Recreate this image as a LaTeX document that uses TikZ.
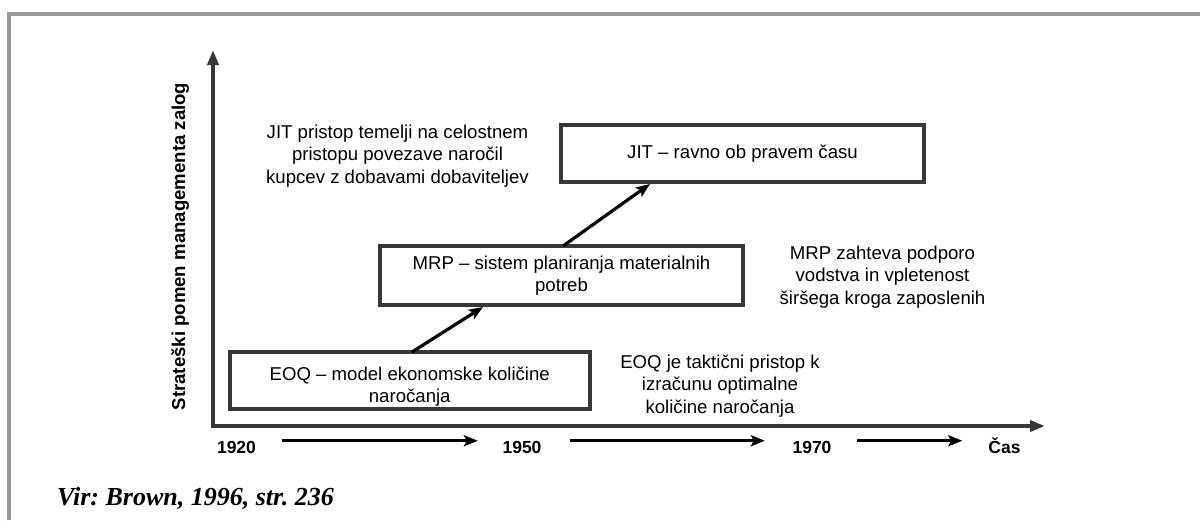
\documentclass[tikz,border=0pt]{standalone}
\usepackage{fontspec}
\setmainfont{Liberation Sans}
\newfontfamily\citefont{Liberation Serif}
\usetikzlibrary{arrows.meta}
\definecolor{framegray}{HTML}{999999}
\definecolor{axisgray}{HTML}{383838}
\frenchspacing
\begin{document}
\begin{tikzpicture}[x=1pt,y=-1pt,
  txt/.style={font=\fontsize{18.6}{22.4}\selectfont, align=center, inner sep=0pt},
  stage/.style={txt, draw=axisgray, line width=4pt, outer sep=0pt},
  axis/.style={draw=axisgray, line width=4.5pt, line join=miter,
    {Triangle[length=15pt,width=11pt]}-{Triangle[length=15pt,width=11pt]}},
  flow/.style={draw=black, line width=3.2pt, -{Stealth[length=14pt,width=11pt,inset=3pt]}},
  year/.style={font=\bfseries\fontsize{17.5}{20}\selectfont, inner sep=0pt, anchor=base,
    text height=12.5pt, text depth=0pt},
]
\useasboundingbox (0,0) rectangle (1200,520);

% page frame
\draw[framegray, line width=4pt, line join=miter] (9,520) -- (9,14) -- (1200,14);

% axes
\coordinate (origin) at (213,426);
\coordinate (ytip) at (213,50);
\coordinate (xtip) at (1045,426);
\draw[axis] (ytip) -- (origin) -- (xtip);

\node[font=\bfseries\fontsize{18.6}{22}\selectfont, inner sep=0pt, rotate=90, anchor=base]
  (ylab) at (185,246.5) {Strateški pomen managementa zalog};

% stages
\node[stage, minimum width=360.5pt, minimum height=57pt] (eoq) at (409.75,380.5)
  {\rule{0pt}{26pt}EOQ – model ekonomske količine\\naročanja};
\node[stage, minimum width=363pt, minimum height=59pt] (mrp) at (561.5,275.5)
  {MRP – sistem planiranja materialnih\\potreb};
\node[stage, minimum width=363pt, minimum height=57pt] (jit) at (742.5,153.5)
  {JIT – ravno ob pravem času};

\draw[flow] ([xshift=182.5pt]eoq.north west) -- ([xshift=103pt,yshift=-2pt]mrp.south west);
\draw[flow] ([xshift=183pt]mrp.north west) -- ([xshift=89pt,yshift=-2pt]jit.south west);

% notes
\node[txt] (jitnote) at (397.5,155.8)
  {JIT pristop temelji na celostnem\\pristopu povezave naročil\\kupcev z dobavami dobaviteljev};
\node[txt] (mrpnote) at (882.5,277)
  {MRP zahteva podporo\\vodstva in vpletenost\\širšega kroga zaposlenih};
\node[txt] (eoqnote) at (720,385.8)
  {EOQ je taktični pristop k\\izračunu optimalne\\količine naročanja};

% time line
\node[year] (y1920) at (236.5,453) {1920};
\node[year] (y1950) at (522,453) {1950};
\node[year] (y1970) at (812,453) {1970};
\node[year] (ycas) at (1004.5,453) {Čas};

\draw[flow] ([xshift=26pt,yshift=6pt]y1920.east) -- ([xshift=-24.5pt,yshift=6pt]y1950.west);
\draw[flow] ([xshift=28.5pt,yshift=6pt]y1950.east) -- ([xshift=-27.5pt,yshift=6pt]y1970.west);
\draw[flow] ([xshift=25.5pt,yshift=6pt]y1970.east) -- ([xshift=-26pt,yshift=6pt]ycas.west);

% source
\node[font=\citefont\bfseries\itshape\fontsize{26}{30}\selectfont, inner sep=0pt, anchor=base west]
  (source) at (57,505) {Vir: Brown, 1996, str. 236};
\end{tikzpicture}
\end{document}
